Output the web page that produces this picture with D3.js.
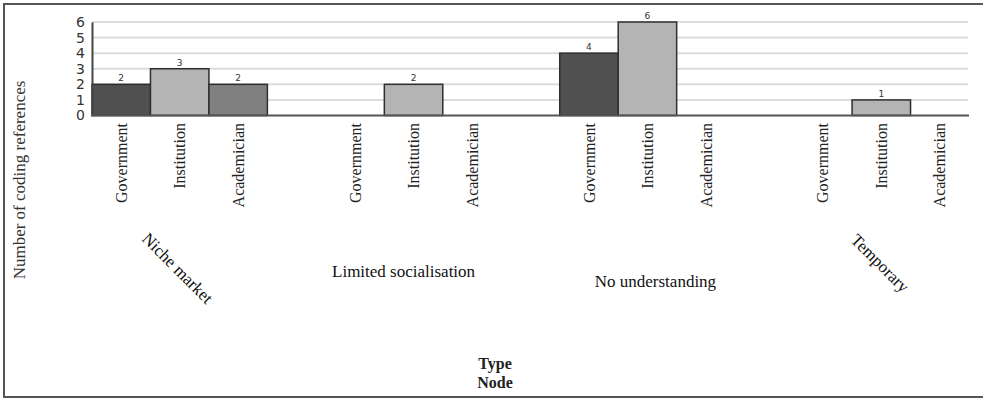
<!DOCTYPE html>
<html>
<head>
<meta charset="utf-8">
<script src="https://cdn.jsdelivr.net/npm/d3@7"></script>
<style>
  html, body { margin: 0; padding: 0; background: #fff; }
  svg { display: block; }
</style>
</head>
<body>
<svg id="chart" width="983" height="399"></svg>
<script>
// ---- data ----
const groups = ["Niche market", "Limited socialisation", "No understanding", "Temporary"];
const types = ["Government", "Institution", "Academician"];
const government = [2, 0, 4, 0];
const institution = [3, 2, 6, 1];
const academician = [2, 0, 0, 0];
const yTicks = [0, 1, 2, 3, 4, 5, 6];
const yTitle = "Number of coding references";
const xTitle = ["Type", "Node"];

// ---- styling / layout ----
const fills = { Government: "#505050", Institution: "#b4b4b4", Academician: "#808080" };
const groupLabelStyle = [
  { rotate: 45, dx: -2, y: 268 },
  { rotate: 0, dx: -10, y: 277 },
  { rotate: 0, dx: 8, y: 287 },
  { rotate: 45, dx: -1, y: 263 }
];

const seriesByType = { Government: government, Institution: institution, Academician: academician };
const rows = [];
groups.forEach((g, i) => types.forEach(t => rows.push({ group: g, type: t, value: seriesByType[t][i] })));

const svg = d3.select("#chart");

// frame
svg.append("rect").attr("x", 4).attr("y", 4).attr("width", 1000).attr("height", 393)
  .attr("fill", "none").attr("stroke", "#555").attr("stroke-width", 2);

const x0 = d3.scaleBand().domain(groups).range([92, 969]).paddingInner(0.25).paddingOuter(0);
const x1 = d3.scaleBand().domain(types).range([0, x0.bandwidth()]).padding(0);
const y = d3.scaleLinear().domain([0, 6]).range([115.5, 22]);

// gridlines
svg.append("g").selectAll("line").data(yTicks.filter(d => d > 0)).join("line")
  .attr("x1", 92).attr("x2", 968)
  .attr("y1", d => y(d)).attr("y2", d => y(d))
  .attr("stroke", "#dcdcdc").attr("stroke-width", 2);

// bars
svg.append("g").selectAll("rect").data(rows.filter(d => d.value > 0)).join("rect")
  .attr("x", d => x0(d.group) + x1(d.type))
  .attr("y", d => y(d.value))
  .attr("width", x1.bandwidth())
  .attr("height", d => y(0) - y(d.value))
  .attr("fill", d => fills[d.type])
  .attr("stroke", "#2e2e2e").attr("stroke-width", 1.5);

// value labels
svg.append("g").selectAll("text").data(rows.filter(d => d.value > 0)).join("text")
  .attr("x", d => x0(d.group) + x1(d.type) + x1.bandwidth() / 2)
  .attr("y", d => y(d.value) - 3)
  .attr("text-anchor", "middle")
  .attr("font-family", "DejaVu Sans, sans-serif").attr("font-size", 9)
  .attr("fill", "#333")
  .text(d => d.value);

// y axis
const yAxis = d3.axisLeft(y).tickValues(yTicks).tickSize(0).tickPadding(7).tickFormat(d3.format("d"));
const gy = svg.append("g").attr("transform", "translate(92,0)").call(yAxis);
gy.select(".domain").attr("stroke", "#444").attr("stroke-width", 2);
gy.selectAll("text").attr("font-family", "DejaVu Sans, sans-serif").attr("font-size", 14).attr("fill", "#333");

// baseline
svg.append("line").attr("x1", 91).attr("x2", 969).attr("y1", y(0)).attr("y2", y(0))
  .attr("stroke", "#555").attr("stroke-width", 2);

// type tick labels (rotated)
svg.append("g").selectAll("text").data(rows).join("text")
  .attr("transform", d => `translate(${x0(d.group) + x1(d.type) + x1.bandwidth() / 2},123) rotate(-90)`)
  .attr("text-anchor", "end").attr("dy", "0.35em")
  .attr("font-family", "Liberation Serif, serif").attr("font-size", 16)
  .attr("fill", "#222")
  .text(d => d.type);

// group labels
svg.append("g").selectAll("text").data(groups).join("text")
  .attr("transform", (d, i) => {
    const s = groupLabelStyle[i];
    return `translate(${x0(d) + x0.bandwidth() / 2 + s.dx},${s.y}) rotate(${s.rotate})`;
  })
  .attr("text-anchor", "middle")
  .attr("dy", (d, i) => groupLabelStyle[i].rotate ? "0.35em" : 0)
  .attr("font-family", "Liberation Serif, serif").attr("font-size", 17)
  .attr("fill", "#111")
  .text(d => d);

// y title
svg.append("text").attr("transform", "translate(19,180) rotate(-90)")
  .attr("text-anchor", "middle").attr("dy", "0.35em")
  .attr("font-family", "Liberation Serif, serif").attr("font-size", 17)
  .attr("fill", "#333")
  .text(yTitle);

// x title
svg.append("g").selectAll("text").data(xTitle).join("text")
  .attr("x", 495).attr("y", (d, i) => 369 + i * 19)
  .attr("text-anchor", "middle")
  .attr("font-family", "Liberation Serif, serif").attr("font-size", 16).attr("font-weight", "bold")
  .attr("fill", "#222")
  .text(d => d);
</script>
</body>
</html>
